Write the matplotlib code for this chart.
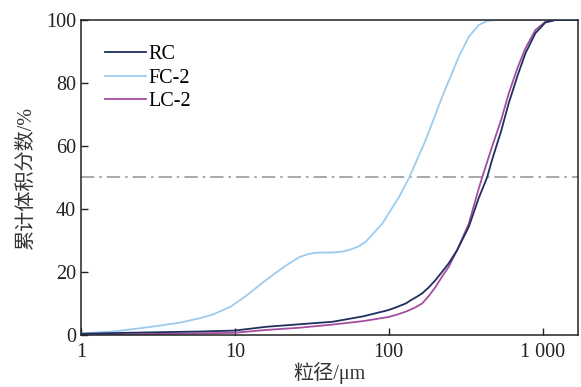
import matplotlib
matplotlib.use("Agg")
import matplotlib.pyplot as plt
from matplotlib.ticker import FixedLocator, NullLocator

plt.rcParams['font.family'] = ['Liberation Serif', 'Noto Sans CJK SC', 'DejaVu Sans']

rc_x = [1, 2, 5.9, 9.95, 16, 26.2, 43.2, 68, 99.5, 112, 129, 140, 153, 165, 183, 202,
        222, 246, 279, 332, 385, 436, 470, 540, 603, 690, 774, 898, 1042, 1211, 1700]
rc_y = [0.4, 0.7, 1.1, 1.4, 2.6, 3.4, 4.2, 5.9, 7.9, 8.8, 10.0, 11.1, 12.2, 13.2, 15.2, 17.5,
        20.0, 22.8, 27.0, 34.4, 43.5, 50.0, 55.6, 65.0, 73.6, 82.5, 89.4, 95.8, 99.2, 100.0, 100.0]

fc_x = [1, 1.62, 2.67, 4.38, 5.9, 7.2, 9.4, 11.9, 15.5, 19.5, 23, 26.2, 30, 33.7, 38,
        43.2, 49, 55.4, 63, 71, 91, 117, 136, 174, 223, 286, 332, 385, 436, 500, 1700]
fc_y = [0.5, 1.1, 2.4, 3.9, 5.3, 6.5, 9.0, 12.5, 17.0, 20.6, 23.0, 24.7, 25.7, 26.1, 26.2,
        26.2, 26.4, 27.0, 28.0, 29.6, 35.4, 43.9, 50.0, 61.9, 75.7, 88.4, 94.7, 98.4, 99.7, 100.0, 100.0]

lc_x = [1, 2, 5.9, 9.95, 16, 26.2, 43.2, 68, 99.5, 112, 129, 147, 165, 183, 202,
        222, 246, 279, 332, 385, 405, 470, 540, 603, 690, 774, 898, 1042, 1211, 1700]
lc_y = [0.0, 0.2, 0.5, 0.7, 1.6, 2.3, 3.3, 4.4, 5.7, 6.4, 7.4, 8.6, 10.0, 12.5, 15.3,
        18.5, 21.7, 27.0, 35.4, 46.5, 50.0, 59.8, 68.5, 76.7, 85.0, 91.0, 96.8, 99.4, 100.0, 100.0]

x_ticks = [1, 10, 100, 1000]
x_labels = ['1', '10', '100', '1 000']
y_ticks = [0, 20, 40, 60, 80, 100]

fig = plt.figure(figsize=(5.81, 3.87), dpi=100)
ax = fig.add_axes([0.1394, 0.1344, 0.8554, 0.8139])

ax.axhline(50, color='#9a9a9a', lw=1.2, ls=(0, (8, 3, 1.5, 3)), zorder=1)
ax.plot(rc_x, rc_y, color='#1f2f5e', lw=1.3, label='RC', zorder=3)
ax.plot(fc_x, fc_y, color='#9dcbee', lw=1.3, label='FC-2', zorder=2)
ax.plot(lc_x, lc_y, color='#a54d9f', lw=1.3, label='LC-2', zorder=2)

ax.set_xscale('log')
ax.set_xlim(1, 1700)
ax.set_ylim(0, 100)
ax.xaxis.set_major_locator(FixedLocator(x_ticks))
ax.xaxis.set_minor_locator(NullLocator())
ax.set_xticklabels(x_labels)
ax.set_yticks(y_ticks)
ax.tick_params(direction='in', length=5, width=1, labelsize=14.5, colors='#222222')
ax.tick_params(axis='x', pad=6)
for s in ax.spines.values():
    s.set_linewidth(1.1)
    s.set_color('#222222')

ax.set_xlabel('粒径/μm', fontsize=14.5, labelpad=0, color='#333333')
ax.set_ylabel('累计体积分数/%', fontsize=14.5, labelpad=7, color='#333333')

ax.legend(loc='upper left', bbox_to_anchor=(0.049, 0.92), frameon=False,
          fontsize=14.5, handlelength=2.0, handletextpad=0.15, labelspacing=0.22,
          borderpad=0, borderaxespad=0)

fig.savefig('out.png', dpi=100)
